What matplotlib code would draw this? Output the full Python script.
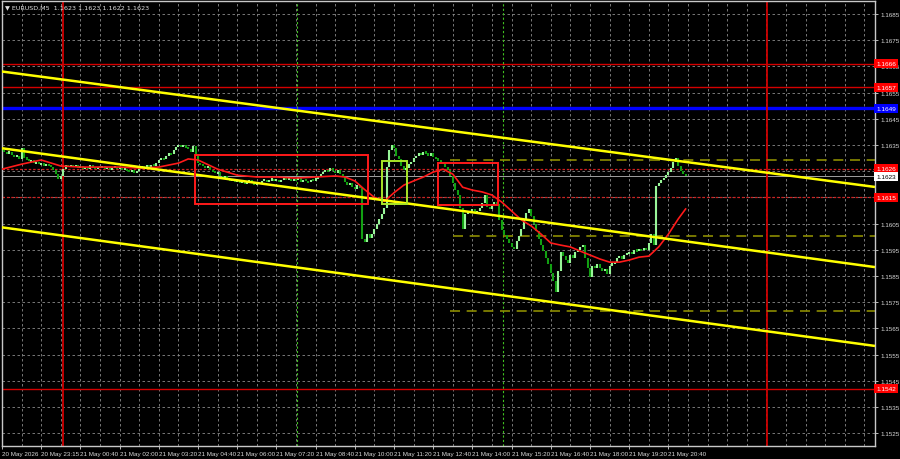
import matplotlib
matplotlib.use('Agg')
import matplotlib.pyplot as plt
import matplotlib.transforms as mtransforms
from matplotlib.patches import Rectangle
import numpy as np

plt.rcParams['font.family'] = ['Liberation Sans Narrow', 'Liberation Sans', 'DejaVu Sans']

# EURUSD M5 closes, one per bar
closes = [
    1.16330, 1.16322, 1.16318, 1.16325, 1.16312, 1.16305, 1.16310, 1.16298, 1.16340, 1.16302,
    1.16295, 1.16288, 1.16292, 1.16280, 1.16285, 1.16276, 1.16282, 1.16270, 1.16278, 1.16272,
    1.16265, 1.16255, 1.16240, 1.16222, 1.16232, 1.16260, 1.16272, 1.16265, 1.16275, 1.16268,
    1.16272, 1.16262, 1.16270, 1.16258, 1.16266, 1.16260, 1.16272, 1.16264, 1.16258, 1.16268,
    1.16262, 1.16270, 1.16258, 1.16265, 1.16255, 1.16262, 1.16268, 1.16258, 1.16264, 1.16256,
    1.16260, 1.16252, 1.16248, 1.16255, 1.16245, 1.16250, 1.16262, 1.16270, 1.16265, 1.16272,
    1.16268, 1.16275, 1.16270, 1.16280, 1.16292, 1.16300, 1.16296, 1.16310, 1.16318, 1.16314,
    1.16330, 1.16342, 1.16350, 1.16344, 1.16352, 1.16340, 1.16335, 1.16325, 1.16345, 1.16310,
    1.16282, 1.16275, 1.16270, 1.16262, 1.16268, 1.16255, 1.16250, 1.16242, 1.16246, 1.16232,
    1.16225, 1.16230, 1.16218, 1.16212, 1.16220, 1.16208, 1.16215, 1.16205, 1.16212, 1.16200,
    1.16208, 1.16215, 1.16205, 1.16198, 1.16210, 1.16202, 1.16212, 1.16218, 1.16208, 1.16215,
    1.16222, 1.16212, 1.16218, 1.16208, 1.16215, 1.16225, 1.16218, 1.16222, 1.16212, 1.16220,
    1.16215, 1.16225, 1.16210, 1.16218, 1.16212, 1.16208, 1.16218, 1.16215, 1.16222, 1.16228,
    1.16238, 1.16248, 1.16255, 1.16250, 1.16262, 1.16252, 1.16245, 1.16256, 1.16240, 1.16228,
    1.16210, 1.16198, 1.16205, 1.16190, 1.16182, 1.16196, 1.16185, 1.15990, 1.15978, 1.16012,
    1.15995, 1.16010, 1.16030, 1.16050, 1.16068, 1.16085, 1.16110, 1.16265, 1.16330, 1.16350,
    1.16338, 1.16310, 1.16295, 1.16270, 1.16255, 1.16262, 1.16278, 1.16285, 1.16300, 1.16308,
    1.16318, 1.16312, 1.16325, 1.16318, 1.16310, 1.16318, 1.16305, 1.16298, 1.16292, 1.16285,
    1.16278, 1.16268, 1.16255, 1.16232, 1.16205, 1.16180, 1.16160, 1.16110, 1.16030, 1.16085,
    1.16100, 1.16092, 1.16105, 1.16090, 1.16098, 1.16108, 1.16130, 1.16158, 1.16115, 1.16105,
    1.16120, 1.16132, 1.16125, 1.16062, 1.16025, 1.16005, 1.15990, 1.15975, 1.15962, 1.15955,
    1.15985, 1.16002, 1.16030, 1.16062, 1.16090, 1.16105, 1.16080, 1.16050, 1.16020, 1.15990,
    1.15968, 1.15945, 1.15920, 1.15895, 1.15860, 1.15830, 1.15790, 1.15870, 1.15940, 1.15925,
    1.15910, 1.15898, 1.15930, 1.15918, 1.15942, 1.15950, 1.15960, 1.15968, 1.15920, 1.15880,
    1.15845, 1.15890, 1.15882, 1.15895, 1.15880, 1.15868, 1.15875, 1.15858, 1.15890, 1.15898,
    1.15902, 1.15918, 1.15925, 1.15915, 1.15930, 1.15936, 1.15942, 1.15935, 1.15950, 1.15945,
    1.15952, 1.15948, 1.15958, 1.15950, 1.15975, 1.16010, 1.15970, 1.16195, 1.16205, 1.16218,
    1.16225, 1.16235, 1.16248, 1.16262, 1.16285, 1.16302, 1.16270, 1.16250, 1.16238, 1.16230,
]

# moving average (red), sampled at bar indices
ma_idx = [0, 8, 16, 24, 32, 40, 48, 56, 64, 72, 76, 80, 88, 96, 104, 112, 120, 128, 136,
          140, 144, 148, 152, 156, 160, 164, 168, 172, 176, 180, 184, 188, 192, 196, 200,
          204, 208, 212, 216, 220, 224, 228, 232, 236, 240, 244, 248, 252, 256, 260, 264,
          268, 272, 276, 279]
ma_vals = [1.16258, 1.16277, 1.16293, 1.16270, 1.16266, 1.16266, 1.16266, 1.16262, 1.16266,
           1.16281, 1.16297, 1.16293, 1.16258, 1.16235, 1.16228, 1.16228, 1.16224, 1.16228,
           1.16232, 1.16228, 1.16213, 1.16180, 1.16150, 1.16135, 1.16168, 1.16197, 1.16213,
           1.16228, 1.16247, 1.16258, 1.16239, 1.16189, 1.16178, 1.16171, 1.16159, 1.16132,
           1.16098, 1.16064, 1.16041, 1.16010, 1.15976, 1.15968, 1.15961, 1.15945, 1.15930,
           1.15915, 1.15903, 1.15903, 1.15911, 1.15922, 1.15926, 1.15961, 1.16010, 1.16068,
           1.16106]

time_labels = ["20 May 2026", "20 May 23:15", "21 May 00:40", "21 May 02:00", "21 May 03:20",
               "21 May 04:40", "21 May 06:00", "21 May 07:20", "21 May 08:40", "21 May 10:00",
               "21 May 11:20", "21 May 12:40", "21 May 14:00", "21 May 15:20", "21 May 16:40",
               "21 May 18:00", "21 May 19:20", "21 May 20:40"]

# horizontal levels
solid_red_levels = [1.1666, 1.1657, 1.1542]
dotted_red_levels = [1.1626, 1.1615]
blue_level = 1.1649
last_price = 1.1623

# yellow channel lines: (start bar, start price, end bar, end price)
trend_lines = [
    (-1, 1.16632, 356.3, 1.16190),
    (-1, 1.16339, 356.3, 1.15884),
    (-1, 1.16037, 356.3, 1.15583),
]

# dashed olive targets: (start bar, price)
target_lines = [(183, 1.16293), (184, 1.16003), (183, 1.15716)]

# boxes: (bar from, bar to, price low, price high, colour)
boxes = [
    (78.8, 149.4, 1.16125, 1.16312, '#ff1a1a'),
    (155.1, 165.3, 1.16125, 1.16289, '#a8e628'),
    (178.0, 202.4, 1.16121, 1.16281, '#ff1a1a'),
]

red_vlines = [24.9, 312.2]
green_vlines = [120.4, 204.5]

price_ticks = np.arange(1.1525, 1.16851, 0.001)
hidden_tick_labels = ['1.1625', '1.1615']  # covered by the level tags on the chart

fig = plt.figure(figsize=(9, 4.6), dpi=100, facecolor='black')
ax = fig.add_axes([2 / 900, 13 / 460, 873 / 900, 445 / 460])
ax.set_facecolor('black')
ax.set_xlim(0, 356.3)
ax.set_ylim(1.15201, 1.16900)

# grid
for x in range(0, 357, 8):
    ax.axvline(x, color='#8a8a8a', lw=0.6, ls=(0, (3, 3)), zorder=0)
for p in price_ticks:
    ax.axhline(p, color='#8a8a8a', lw=0.6, ls=(0, (3, 3)), zorder=0)

# levels
for p in solid_red_levels:
    ax.axhline(p, color='#d40000', lw=1.0, zorder=1)
for p in dotted_red_levels:
    ax.axhline(p, color='#d02020', lw=0.9, ls=(0, (2, 1.5)), zorder=1)
ax.axhline(blue_level, color='#0000ff', lw=2.4, zorder=1)
ax.axhline(last_price, color='#a0a0a0', lw=0.7, zorder=1)

for x in red_vlines:
    ax.axvline(x, color='#d00000', lw=1.3, zorder=1)
for x in green_vlines:
    ax.axvline(x, color='#40c020', lw=0.8, ls=(0, (2, 2)), zorder=1)

for x0, p in target_lines:
    ax.plot([x0, 356.3], [p, p], color='#8c8c00', lw=1.2, ls=(0, (6, 4)), zorder=2)

# candles (open = previous close)
opens = [closes[0]] + closes[:-1]
xs = np.arange(len(closes))
for x, o, c in zip(xs, opens, closes):
    col = '#98f598' if c >= o else '#12a012'
    lo, hi = min(o, c), max(o, c)
    if hi - lo < 0.00008:
        mid = (hi + lo) / 2
        hi, lo = mid + 0.00004, mid - 0.00004
    ax.vlines(x, lo, hi, color=col, lw=1.5, zorder=3)

ax.plot(ma_idx, ma_vals, color='#ff1a1a', lw=1.2, zorder=4)

for x0, p0, x1, p1 in trend_lines:
    ax.plot([x0, x1], [p0, p1], color='#ffff00', lw=1.8, zorder=5, solid_capstyle='butt')

for b0, b1, lo, hi, col in boxes:
    ax.add_patch(Rectangle((b0, lo), b1 - b0, hi - lo, fill=False, ec=col, lw=1.4, zorder=6))

# axes styling
for s in ax.spines.values():
    s.set_color('#c8c8c8')
    s.set_linewidth(1.0)
ax.yaxis.tick_right()
ax.set_yticks(price_ticks)
ax.set_yticklabels(['' if f'{p:.4f}' in hidden_tick_labels else f'{p:.4f}' for p in price_ticks])
ax.set_xticks(range(0, 16 * len(time_labels), 16))
ax.set_xticklabels(time_labels, ha='left')
ax.tick_params(axis='both', colors='#d8d8d8', labelsize=4.5, length=2, width=0.6, pad=1.5)
ax.tick_params(axis='y', pad=2)

# coloured price labels on the right axis
tr = mtransforms.blended_transform_factory(ax.transAxes, ax.transData)
tags = [(p, '#ff0000', 'white') for p in solid_red_levels + dotted_red_levels]
tags += [(blue_level, '#0000ff', 'white'), (last_price, 'white', 'black')]
for p, bg, fg in tags:
    ax.text(1.0015, p, f'{p:.4f}', transform=tr, ha='left', va='center', fontsize=4.6,
            color=fg, clip_on=False, zorder=10,
            bbox=dict(boxstyle='square,pad=0.3', fc=bg, ec='none'))

fig.text(5 / 900, 1 - 8 / 460, '\u25BC EURUSD,M5  1.1623 1.1623 1.1622 1.1623',
         color='#e0e0e0', fontsize=4.6, va='center', ha='left',
         family=['Liberation Sans Narrow', 'DejaVu Sans'])

fig.savefig('out.png', dpi=100, facecolor='black')
